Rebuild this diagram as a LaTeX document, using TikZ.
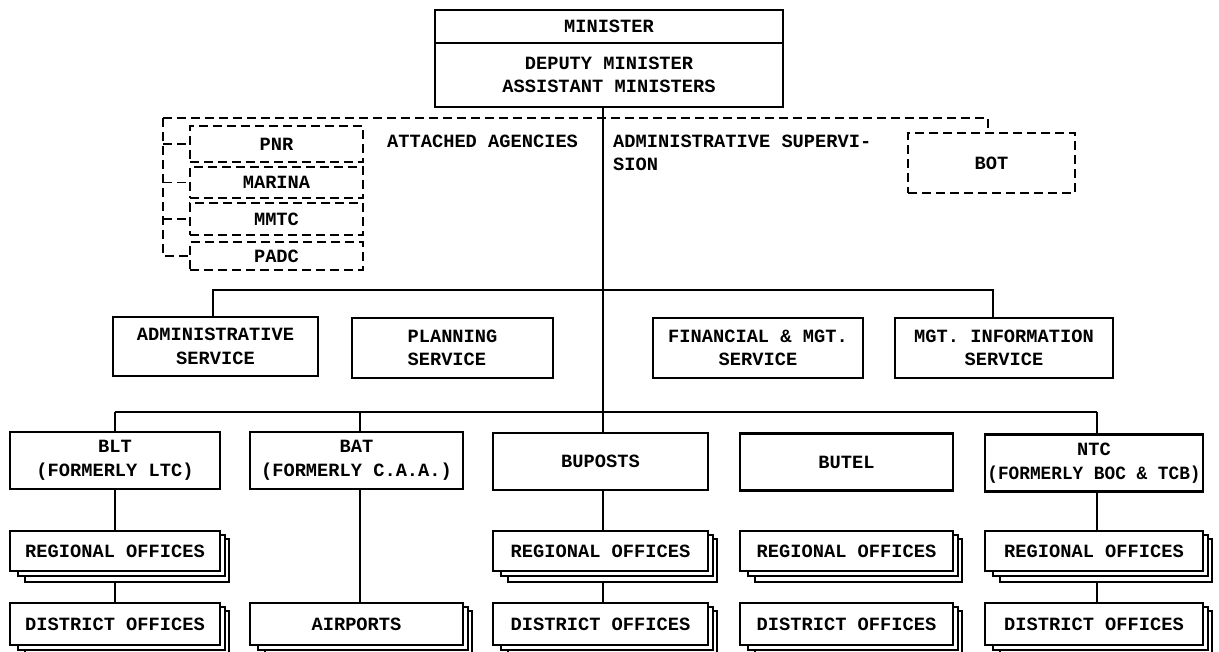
\documentclass[tikz,border=0pt]{standalone}
\usepackage{fontspec}
\setmainfont{Liberation Mono}
\pgfdeclarelayer{background}
\pgfsetlayers{background,main}
\newcommand\stackedbox[6]{%
  \draw[layer] (#2+15,#3+8) rectangle (#4+9,#5+11);
  \draw[layer] (#2+8,#3+4) rectangle (#4+5,#5+5);
  \node[box, minimum width={#4-#2}, minimum height={#5-#3}] (#1) at ({(#2+#4)/2},{(#3+#5)/2}) {#6};}
\begin{document}
\begin{tikzpicture}[x=1pt,y=-1pt,
  every node/.style={font=\bfseries\fontsize{18.7}{23.5}\selectfont, align=center, inner sep=0pt},
  box/.style={draw, line width=2.1pt, fill=white},
  dbox/.style={draw, line width=1.8pt, dash pattern=on 9pt off 5pt, fill=white},
  conn/.style={line width=2.2pt},
  dconn/.style={line width=1.8pt, dash pattern=on 9pt off 5pt},
  layer/.style={draw, line width=1.8pt, fill=white}]
\useasboundingbox (0,0) rectangle (1219,652);

% top
\node[box, minimum width=348, minimum height=33] (min) at (609,26.5) {MINISTER};
\node[box, minimum width=348, minimum height=64] (dep) at (609,75) {DEPUTY MINISTER\\ASSISTANT MINISTERS};

% attached agencies
\node[dbox, minimum width=173, minimum height=36] (pnr) at (276.5,144) {PNR};
\node[dbox, minimum width=173, minimum height=31] (mar) at (276.5,182.5) {MARINA};
\node[dbox, minimum width=173, minimum height=32] (mmt) at (276.5,219) {MMTC};
\node[dbox, minimum width=173, minimum height=28] (pad) at (276.5,256) {PADC};
\node[dbox, minimum width=167, minimum height=60] (bot) at (991.5,163) {BOT};
\node[anchor=north west, align=left] (att) at (387,134.6) {ATTACHED AGENCIES};
\node[anchor=north west, align=left] (sup) at (613,134.6) {ADMINISTRATIVE SUPERVI-\\SION};

% services
\node[box, minimum width=205, minimum height=59] (adm) at (215.5,346.5) {ADMINISTRATIVE\\SERVICE};
\node[box, minimum width=201, minimum height=60, align=left] (pln) at (452.5,348) {PLANNING\\SERVICE};
\node[box, minimum width=210, minimum height=60] (fin) at (758,348) {FINANCIAL \& MGT.\\SERVICE};
\node[box, minimum width=218, minimum height=60] (mis) at (1004,348) {MGT. INFORMATION\\SERVICE};

% bureaus
\node[box, minimum width=210, minimum height=57] (blt) at (115,460.5) {BLT\\(FORMERLY LTC)};
\node[box, minimum width=213, minimum height=57] (bat) at (356.5,460.5) {BAT\\(FORMERLY C.A.A.)};
\node[box, minimum width=215, minimum height=57] (bup) at (600.5,461.5) {BUPOSTS};
\node[box, minimum width=213, minimum height=57] (btl) at (846.5,462) {BUTEL};
\node[box, minimum width=218, minimum height=57] (ntc) at (1094,463) {NTC\\\scalebox{0.95}[1]{(FORMERLY BOC \& TCB)}};

% offices
\stackedbox{rblt}{10}{531}{220}{571}{REGIONAL OFFICES}
\stackedbox{dblt}{10}{603}{220}{645}{DISTRICT OFFICES}
\stackedbox{air}{250}{603}{463}{645}{AIRPORTS}
\stackedbox{rbup}{493}{531}{708}{571}{REGIONAL OFFICES}
\stackedbox{dbup}{493}{603}{708}{645}{DISTRICT OFFICES}
\stackedbox{rbtl}{740}{531}{953}{571}{REGIONAL OFFICES}
\stackedbox{dbtl}{740}{603}{953}{645}{DISTRICT OFFICES}
\stackedbox{rntc}{985}{531}{1203}{571}{REGIONAL OFFICES}
\stackedbox{dntc}{985}{603}{1203}{645}{DISTRICT OFFICES}

\begin{pgfonlayer}{background}
\fill[white] (0,0) rectangle (1219,652);
% dashed attachments
\coordinate (dl) at (163,118);
\coordinate (dr) at (988,118);
\draw[dconn] (dl) -- (dr) -- (dr |- bot.north);
\draw[dconn] (dl) -- (dl |- pad.west) -- (pad.west);
\draw[dconn] (dl |- pnr.west) -- (pnr.west);
\draw[dconn] (dl |- mar.west) -- (mar.west);
\draw[dconn] (dl |- mmt.west) -- (mmt.west);
% main line
\coordinate (bj) at (603,412);
\draw[conn] (dep.south -| bj) -- (bj |- dbup.north);
% services bar
\coordinate (sl) at (213,290);
\coordinate (sr) at (993,290);
\draw[conn] (sl |- adm.north) -- (sl) -- (sr) -- (sr |- mis.north);
% bureaus bar
\coordinate (bl) at (115,412);
\coordinate (br) at (1097,412);
\coordinate (ba) at (360,412);
\draw[conn] (bl) -- (br);
\draw[conn] (bl) -- (bl |- dblt.north);
\draw[conn] (ba) -- (ba |- air.north);
\draw[conn] (br) -- (br |- dntc.north);
\end{pgfonlayer}
\end{tikzpicture}
\end{document}
